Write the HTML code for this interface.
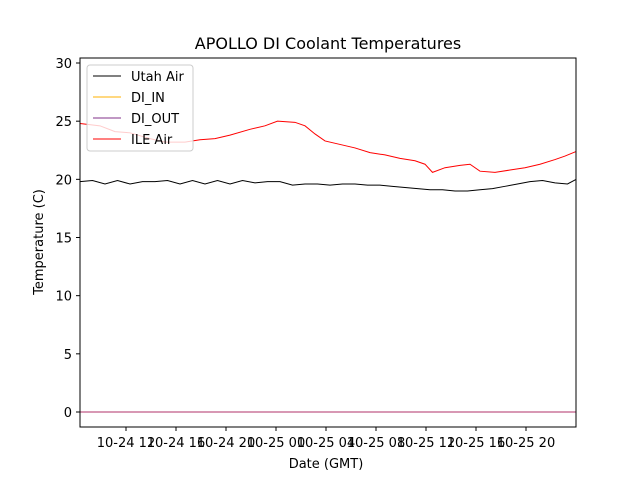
<!DOCTYPE html>
<html><head><meta charset="utf-8"><style>
body{margin:0;background:#fff;font-family:"Liberation Sans","DejaVu Sans",sans-serif}
svg text{font-family:"DejaVu Sans","Liberation Sans",sans-serif}
</style></head><body>
<svg id="c" width="640" height="480" xmlns="http://www.w3.org/2000/svg">
<rect width="640" height="480" fill="#fff"/>
<text x="328" y="49" font-size="16" text-anchor="middle">APOLLO DI Coolant Temperatures</text>
<g id="plot"></g>
<rect x="80" y="58" width="496" height="369" fill="none" stroke="#000" stroke-width="1"/>
<text x="326" y="468" font-size="13" text-anchor="middle">Date (GMT)</text>
<text transform="translate(43,242) rotate(-90)" font-size="13" text-anchor="middle">Temperature (C)</text>
<g>
<rect x="87" y="65" width="106" height="86" rx="3" fill="#fff" fill-opacity="0.8" stroke="#ccc"/>
<line x1="93" y1="76" x2="121" y2="76" stroke="#000" stroke-width="1"/>
<text x="131" y="81" font-size="13">Utah Air</text>
<line x1="93" y1="97" x2="121" y2="97" stroke="#ffb000" stroke-width="1"/>
<text x="131" y="102" font-size="13">DI_IN</text>
<line x1="93" y1="118" x2="121" y2="118" stroke="#80308a" stroke-width="1"/>
<text x="131" y="123" font-size="13">DI_OUT</text>
<line x1="93" y1="139" x2="121" y2="139" stroke="#ff0000" stroke-width="1"/>
<text x="131" y="144" font-size="13">ILE Air</text>
</g>
</svg>
<script>
const yTicks=[0,5,10,15,20,25,30];
const xTickHours=[3.68,7.68,11.68,15.68,19.68,23.68,27.68,31.68,35.68];
const xTickLabels=["10-24 12","10-24 16","10-24 20","10-25 00","10-25 04","10-25 08","10-25 12","10-25 16","10-25 20"];
const redX=[0,1.6,2.8,4,5.6,6.8,8.4,9.6,10.8,12,13.6,14.8,15.8,17.2,18,18.8,19.6,20.8,22,23.2,24.4,25.6,26.8,27.6,28.2,29.2,30.4,31.2,32,33.2,34.4,35.6,36.8,38,38.8,39.7];
const redY=[24.8,24.6,24.1,24.0,23.5,23.2,23.2,23.4,23.5,23.8,24.3,24.6,25.0,24.9,24.6,23.9,23.3,23.0,22.7,22.3,22.1,21.8,21.6,21.3,20.6,21.0,21.2,21.3,20.7,20.6,20.8,21.0,21.3,21.7,22.0,22.4];
const blkX=[0,1,2,3,4,5,6,7,8,9,10,11,12,13,14,15,16,17,18,19,20,21,22,23,24,25,26,27,28,29,30,31,32,33,34,35,36,37,38,39,39.7];
const blkY=[19.8,19.9,19.6,19.9,19.6,19.8,19.8,19.9,19.6,19.9,19.6,19.9,19.6,19.9,19.7,19.8,19.8,19.5,19.6,19.6,19.5,19.6,19.6,19.5,19.5,19.4,19.3,19.2,19.1,19.1,19.0,19.0,19.1,19.2,19.4,19.6,19.8,19.9,19.7,19.6,20.0];
const diX=[0,39.7];
const diInY=[0,0];
const diOutY=[0,0];
const X=h=>80+h*12.5;
const Y=v=>412-v*11.633;
const NS="http://www.w3.org/2000/svg";
const g=document.getElementById('plot');
function mk(t,a){const e=document.createElementNS(NS,t);for(const k in a)e.setAttribute(k,a[k]);g.appendChild(e);return e;}
yTicks.forEach(v=>{
 const l=mk('line',{x1:76,x2:80,y1:Y(v),y2:Y(v),stroke:'#000'});
 
 
 const t=mk('text',{x:72,y:Y(v)+5,'font-size':13,'text-anchor':'end'});t.textContent=v;
 
 
});
xTickHours.forEach((h,i)=>{
 const l=mk('line',{x1:X(h),x2:X(h),y1:427,y2:431,stroke:'#000'});
 
 
 const t=mk('text',{x:X(h),y:447,'font-size':13,'text-anchor':'middle'});t.textContent=xTickLabels[i];
 
 
});
function line(xs,ys,c,name){
 const p=mk('polyline',{points:xs.map((x,i)=>X(x)+','+Y(ys[i])).join(' '),fill:'none',stroke:c,'stroke-width':1});
 
 
}
line(blkX,blkY,'#000','series-utah-air');
line(diX,diInY,'#ffb000','series-di-in');
line(diX,diOutY,'#b0306a','series-di-out');
line(redX,redY,'#ff0000','series-ile-air');
</script>
</body></html>
